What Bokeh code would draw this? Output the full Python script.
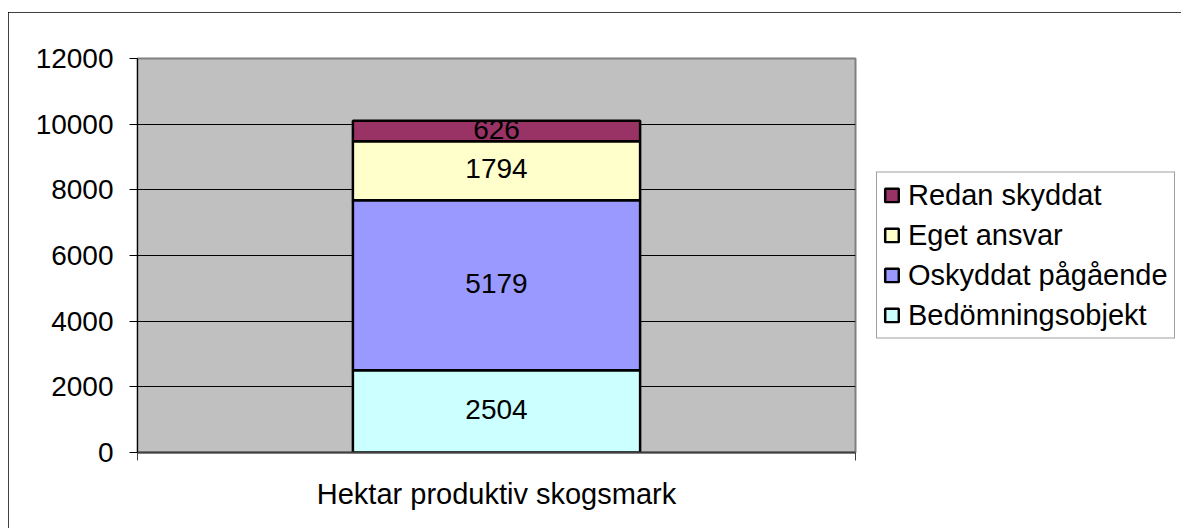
from bokeh.plotting import figure
from bokeh.models import (Range1d, FixedTicker, Legend, LegendItem,
                          ColumnDataSource, LabelSet)
from bokeh.core.properties import value
from bokeh.embed import file_html
from bokeh.resources import INLINE

categories = ["Hektar produktiv skogsmark"]
series = ["Bedömningsobjekt", "Oskyddat pågående", "Eget ansvar", "Redan skyddat"]
values = {
    "Bedömningsobjekt": [2504],
    "Oskyddat pågående": [5179],
    "Eget ansvar": [1794],
    "Redan skyddat": [626],
}
colors = ["#CCFFFF", "#9999FF", "#FFFFCC", "#993366"]
y_ticks = [0, 2000, 4000, 6000, 8000, 10000, 12000]

FONT = "Liberation Sans"

p = figure(frame_width=718, frame_height=394, output_backend="svg", toolbar_location=None,
           x_range=Range1d(0, len(categories)), y_range=Range1d(0, 12000),
           min_border_left=129, min_border_top=46, min_border_right=0,
           min_border_bottom=76, margin=(12, 0, 0, 8))
p.styles = {"outline": "2px solid black", "outline-offset": "-2px"}
p.background_fill_color = "#C0C0C0"
p.border_fill_color = "white"
p.outline_line_color = "#808080"
p.outline_line_width = 2

xs = [i + 0.5 for i in range(len(categories))]
data = {"x": xs}
for s in series:
    data[s] = values[s]
src = ColumnDataSource(data)

renderers = p.vbar_stack(series, x="x", width=0.4, source=src, color=colors,
                         line_color="black", line_width=2.5)

# labels at segment centres
lab_x, lab_y, lab_t = [], [], []
for i, x in enumerate(xs):
    base = 0
    for s in series:
        v = values[s][i]
        lab_x.append(x)
        lab_y.append(base + v / 2)
        lab_t.append(str(v))
        base += v
lsrc = ColumnDataSource(dict(x=lab_x, y=lab_y, t=lab_t))
p.add_layout(LabelSet(x="x", y="y", text="t", source=lsrc, text_align="center",
                      text_baseline="middle", text_font=value(FONT),
                      text_font_size=value("28px"), text_color="black",
                      y_offset=2))

# axes
p.xgrid.visible = False
p.ygrid.ticker = FixedTicker(ticks=y_ticks)
p.ygrid.grid_line_color = "black"
p.ygrid.grid_line_width = 1

p.yaxis.ticker = FixedTicker(ticks=y_ticks)
p.yaxis.major_tick_out = 8
p.yaxis.major_tick_in = 0
p.yaxis.minor_tick_out = 0
p.yaxis.minor_tick_in = 0
p.yaxis.axis_line_color = "black"
p.yaxis.major_tick_line_color = "black"
p.yaxis.major_label_text_font = FONT
p.yaxis.major_label_text_font_size = "28px"
p.yaxis.major_label_text_color = "black"
p.yaxis.major_label_standoff = 16

p.xaxis.ticker = FixedTicker(ticks=xs, minor_ticks=[float(i) for i in range(len(categories) + 1)])
p.xaxis.major_label_overrides = {x: c for x, c in zip(xs, categories)}
p.xaxis.major_tick_out = 0
p.xaxis.major_tick_in = 0
p.xaxis.minor_tick_out = 8
p.xaxis.minor_tick_in = 0
p.xaxis.minor_tick_line_color = "#404040"
p.xaxis.axis_line_color = "#404040"
p.xaxis.axis_line_width = 2
p.xaxis.major_label_text_font = FONT
p.xaxis.major_label_text_font_size = "29px"
p.xaxis.major_label_text_color = "black"
p.xaxis.major_label_standoff = 17

# legend (reverse order)
items = [LegendItem(label=s, renderers=[r]) for s, r in zip(series, renderers)][::-1]
legend = Legend(items=items, location="center_left", orientation="vertical",
                label_text_font=FONT, label_text_font_size="29px",
                label_text_color="black",
                glyph_width=17, glyph_height=17, label_height=17,
                label_standoff=8, spacing=7, padding=6, margin=21,
                border_line_color="#404040", border_line_width=1,
                background_fill_color="white", background_fill_alpha=1)
p.add_layout(legend, "right")

open("out.html", "w").write(file_html(p, INLINE))
